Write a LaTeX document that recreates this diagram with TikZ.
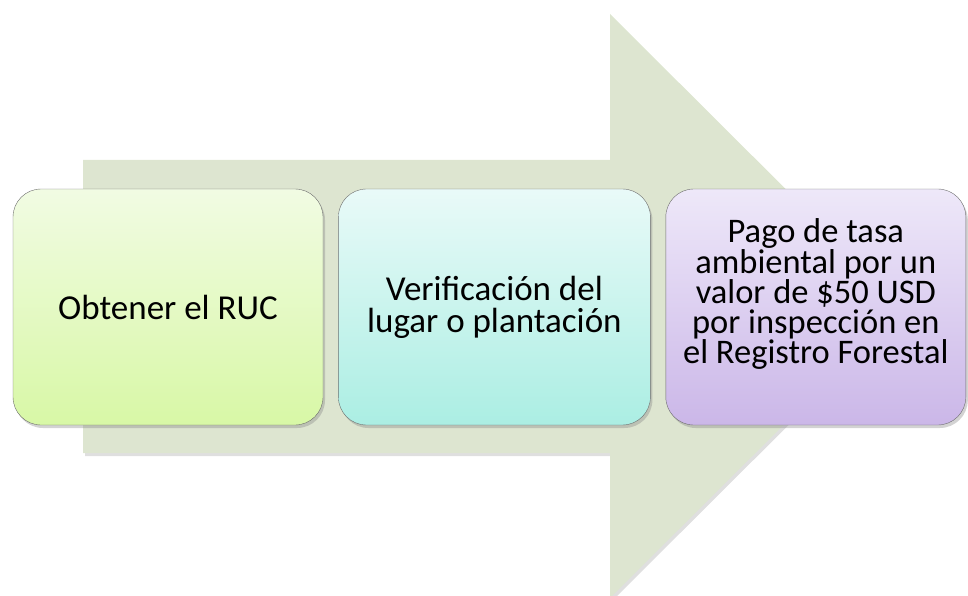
\documentclass[tikz,border=0pt]{standalone}
\usepackage{fontspec}
\setmainfont{Carlito}
\usetikzlibrary{positioning,shadows}

\definecolor{arrowfill}{HTML}{DDE5D0}
\definecolor{boxline}{HTML}{6E6E6E}
\definecolor{greentop}{HTML}{F1FBE3}
\definecolor{greenbot}{HTML}{D8F8A6}
\definecolor{cyantop}{HTML}{E9FAF8}
\definecolor{cyanbot}{HTML}{ABEEE3}
\definecolor{violettop}{HTML}{EEE8F9}
\definecolor{violetbot}{HTML}{CBB7E8}

\begin{document}
\begin{tikzpicture}[x=1pt,y=-1pt,node distance=15pt,
  stepbox/.style={draw=boxline,thin,rounded corners=28pt,
    minimum height=236pt,inner sep=0pt,align=center,
    font=\fontsize{35}{32}\selectfont,
    drop shadow={shadow xshift=2pt,shadow yshift=-3pt,opacity=.35}}]

  \useasboundingbox (0,0) rectangle (968,596);

  % big arrow behind the steps
  \fill[arrowfill,drop shadow={shadow xshift=2pt,shadow yshift=-3pt,opacity=.25}]
    (83,160) -- (610,160) -- (610,14) -- (903,306) -- (610,598)
    -- (610,453) -- (83,453) -- cycle;

  \node[stepbox,top color=greentop,bottom color=greenbot,
        minimum width=310pt] (ruc) at (168,307) {Obtener el RUC};
  \node[stepbox,top color=cyantop,bottom color=cyanbot,
        minimum width=312pt,right=of ruc] (verif)
        {Verificación del\\lugar o plantación};
  \node[stepbox,top color=violettop,bottom color=violetbot,
        minimum width=300pt,right=of verif,text depth=32pt,
        font=\fontsize{34.5}{29.5}\selectfont] (tasa)
        {Pago de tasa\\ambiental por un\\valor de \$50 USD\\por inspección en\\el Registro Forestal};
\end{tikzpicture}
\end{document}
